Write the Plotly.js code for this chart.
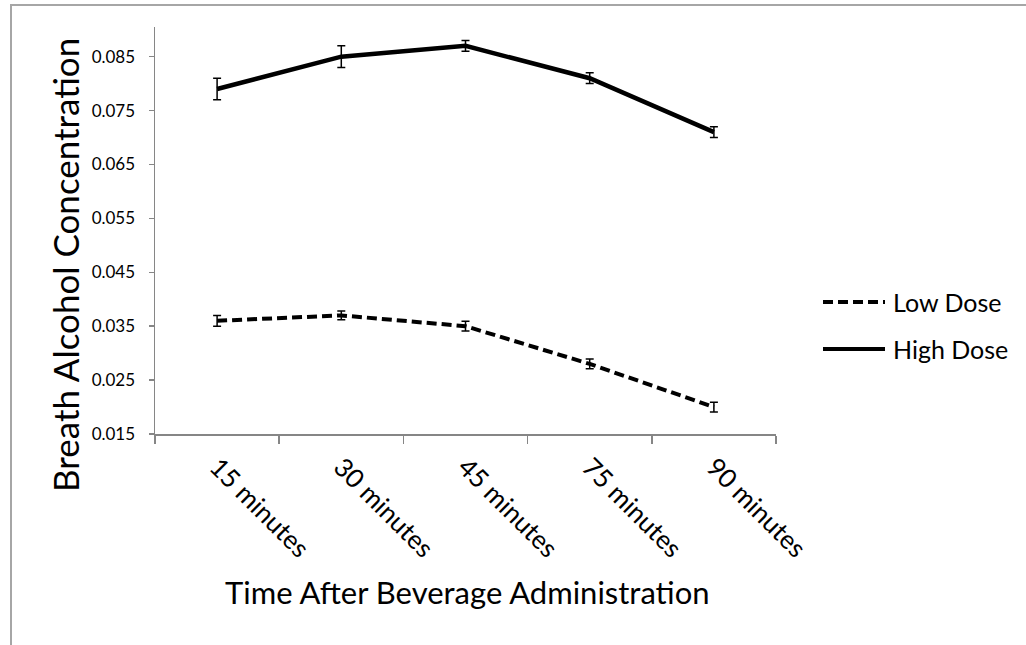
<!DOCTYPE html>
<html>
<head>
<meta charset="utf-8">
<script src="https://cdn.plot.ly/plotly-3.0.1.min.js"></script>
<style>
  html, body { margin: 0; padding: 0; background: #fff; }
  #wrap { position: relative; width: 1026px; height: 645px; overflow: hidden; }
  #chart { position: absolute; left: 0; top: 0; width: 1026px; height: 645px; }
  .bt { position: absolute; left: 10px; top: 4px; width: 1016px; height: 2px; background: #a6a6a6; }
  .bl { position: absolute; left: 10px; top: 4px; width: 2px; height: 641px; background: #a6a6a6; }
</style>
</head>
<body>
<div id="wrap">
  <div id="chart"></div>
  <div class="bt"></div>
  <div class="bl"></div>
</div>
<script>
// ---- data ----
const categories = ['15 minutes', '30 minutes', '45 minutes', '75 minutes', '90 minutes'];
const lowDose  = [0.036, 0.037, 0.035, 0.028, 0.020];
const lowErr   = [0.0010, 0.0008, 0.0009, 0.0009, 0.0009];
const highDose = [0.079, 0.085, 0.087, 0.081, 0.071];
const highErr  = [0.0020, 0.0020, 0.0010, 0.0010, 0.0010];
const yTickVals = [0.015, 0.025, 0.035, 0.045, 0.055, 0.065, 0.075, 0.085];
const yTickText = ['0.015', '0.025', '0.035', '0.045', '0.055', '0.065', '0.075', '0.085'];
const seriesNames = ['Low Dose', 'High Dose'];
const xTitle = 'Time After Beverage Administration';
const yTitle = 'Breath Alcohol Concentration';

// ---- layout geometry ----
const W = 1026, H = 645;
const M = { l: 155, r: 250, t: 27, b: 211 };
const pw = W - M.l - M.r, ph = H - M.t - M.b;
const px = x => (x - M.l) / pw;
const py = y => (H - M.b - y) / ph;
const FONT = 'Lato, "Open Sans", sans-serif';
const AXC = '#868686';
const DASH = '10px,5px';

const traces = [
  {
    x: categories, y: lowDose, name: seriesNames[0], type: 'scatter', mode: 'lines',
    line: { color: '#000', width: 4, dash: DASH },
    error_y: { type: 'data', array: lowErr, visible: true, color: '#000', thickness: 1.5, width: 4 },
    showlegend: false
  },
  {
    x: categories, y: highDose, name: seriesNames[1], type: 'scatter', mode: 'lines',
    line: { color: '#000', width: 4.5 },
    error_y: { type: 'data', array: highErr, visible: true, color: '#000', thickness: 1.5, width: 4 },
    showlegend: false
  }
];

const legendY = [302, 349];
const legendDash = [DASH, 'solid'];

const layout = {
  width: W, height: H,
  margin: M,
  paper_bgcolor: 'rgba(0,0,0,0)',
  plot_bgcolor: 'rgba(0,0,0,0)',
  font: { family: FONT, color: '#000' },
  showlegend: false,
  xaxis: {
    type: 'category', range: [-0.5, 4.5],
    showgrid: false, zeroline: false,
    showline: true, linecolor: AXC, linewidth: 1.5,
    ticks: 'outside', tickson: 'boundaries', ticklen: 8, tickcolor: AXC, tickwidth: 1.5,
    tickangle: 45, tickfont: { family: FONT, size: 26, color: '#000' },
    ticklabelstandoff: 6,
    fixedrange: true
  },
  yaxis: {
    range: [0.015, 0.0905],
    tickvals: yTickVals, ticktext: yTickText,
    showgrid: false, zeroline: false,
    showline: true, linecolor: AXC, linewidth: 1.5,
    ticks: 'outside', ticklen: 5, tickcolor: AXC, tickwidth: 1.5,
    ticklabelstandoff: 10,
    tickfont: { family: FONT, size: 17, color: '#000' },
    fixedrange: true
  },
  annotations: [
    { text: xTitle, xref: 'paper', yref: 'paper', x: px(467), y: py(592),
      xanchor: 'center', yanchor: 'middle', showarrow: false,
      font: { family: FONT, size: 31, color: '#000' } },
    { text: yTitle, xref: 'paper', yref: 'paper', x: px(65), y: py(265),
      xanchor: 'center', yanchor: 'middle', showarrow: false, textangle: -90,
      font: { family: FONT, size: 35, color: '#000' } }
  ].concat(seriesNames.map((n, i) => ({
      text: n, xref: 'paper', yref: 'paper', x: px(891), y: py(legendY[i]),
      xanchor: 'left', yanchor: 'middle', showarrow: false,
      font: { family: FONT, size: 25, color: '#000' }
  }))),
  shapes: seriesNames.map((n, i) => ({
    type: 'line', xref: 'paper', yref: 'paper',
    x0: px(823), x1: px(885), y0: py(legendY[i]), y1: py(legendY[i]),
    line: { color: '#000', width: 4, dash: legendDash[i] }
  }))
};

Plotly.newPlot('chart', traces, layout, { displayModeBar: false, staticPlot: true });
</script>
</body>
</html>
